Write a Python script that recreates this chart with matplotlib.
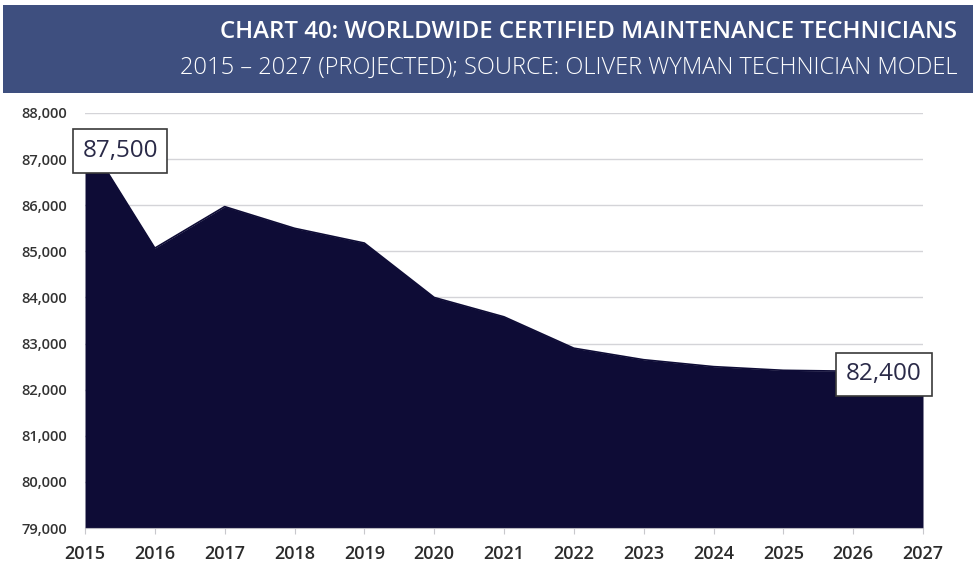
import matplotlib.pyplot as plt
from matplotlib.patches import Rectangle
from matplotlib.ticker import FuncFormatter

years = [2015, 2016, 2017, 2018, 2019, 2020, 2021, 2022, 2023, 2024, 2025, 2026, 2027]
technicians = [87500, 85070, 85970, 85500, 85180, 84000, 83580, 82900, 82650, 82500, 82420, 82400, 82400]
y_ticks = [79000, 80000, 81000, 82000, 83000, 84000, 85000, 86000, 87000, 88000]

title = "CHART 40: WORLDWIDE CERTIFIED MAINTENANCE TECHNICIANS"
subtitle = "2015 – 2027 (PROJECTED); SOURCE: OLIVER WYMAN TECHNICIAN MODEL"

navy = "#0e0c36"
banner = "#3e4f7f"

plt.rcParams["font.family"] = ["Open Sans", "DejaVu Sans"]

fig = plt.figure(figsize=(9.76, 5.73), dpi=100)

# header banner
fig.patches.append(Rectangle((0.003, 0.838), 0.994, 0.153, transform=fig.transFigure,
                             facecolor=banner, edgecolor="none", zorder=0))
fig.text(0.981, 0.944, title, color="white", fontsize=17.3, fontweight="semibold",
         ha="right", va="center")
fig.text(0.981, 0.881, subtitle, color="white", fontsize=17, fontweight="light",
         ha="right", va="center")

ax = fig.add_axes([0.0871, 0.0785, 0.8586, 0.7243])
ax.fill_between(years, technicians, y_ticks[0], color=navy, lw=0, zorder=2)
ax.plot(years, technicians, color=navy, lw=1.2, zorder=3)

ax.set_xlim(years[0], years[-1])
ax.set_ylim(y_ticks[0], y_ticks[-1])
ax.set_xticks(years)
ax.set_yticks(y_ticks)
ax.yaxis.set_major_formatter(FuncFormatter(lambda v, _: f"{int(v):,}"))
ax.grid(axis="y", color="#d4d4d8", lw=1.0, zorder=0)

for side in ["top", "right", "left"]:
    ax.spines[side].set_visible(False)
ax.spines["bottom"].set_color("#b8b8c0")
ax.tick_params(axis="x", length=4, color="#c8c8cc", labelsize=13, labelcolor="#2b2b2b", pad=8)
ax.tick_params(axis="y", length=0, labelsize=10.5, labelcolor="#333333", pad=13)
for lbl in ax.get_xticklabels():
    lbl.set_fontweight("semibold")
for lbl in ax.get_yticklabels():
    lbl.set_fontweight("semibold")

# value call-outs at the first and last year
box = dict(boxstyle="square,pad=0.4", facecolor="white", edgecolor="#3a3a3a", lw=1.2)
ax.annotate(f"{technicians[0]:,}", xy=(years[0], technicians[0]), xytext=(35, -15),
            textcoords="offset pixels", ha="center", va="center", fontsize=17.5,
            color="#2a2a48", bbox=box, zorder=5, annotation_clip=False)
ax.annotate(f"{technicians[-1]:,}", xy=(years[-1], technicians[-1]), xytext=(-39, -3),
            textcoords="offset pixels", ha="center", va="center", fontsize=17.5,
            color="#2a2a48", bbox=box, zorder=5, annotation_clip=False)

fig.savefig("out.png", dpi=100)
